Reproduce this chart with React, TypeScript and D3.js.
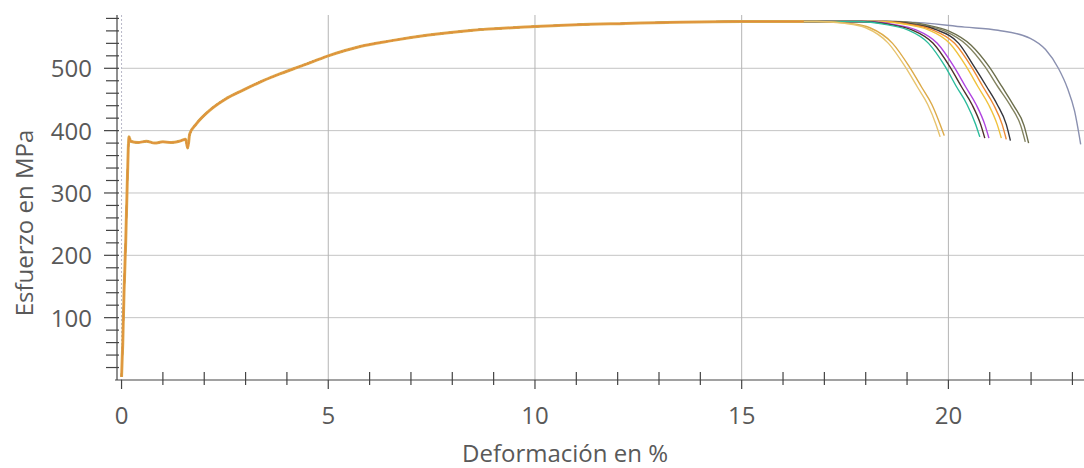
import * as d3 from 'd3';

const X_TICKS = [0, 5, 10, 15, 20];
const Y_TICKS = [100, 200, 300, 400, 500];

// shared part of all specimens: elastic, yield plateau, hardening
const COMMON_STRAIN = [0.0, 0.03, 0.06, 0.1, 0.14, 0.18, 0.22, 0.4, 0.6, 0.8, 1.0, 1.2, 1.4, 1.55, 1.6, 1.65, 1.8, 2.14, 2.5, 2.94, 3.35, 3.75, 4.4, 5.0, 5.77, 6.5, 7.38, 8.5, 10.0, 11.0, 12.2, 13.5, 15.0, 16.5];
const COMMON_STRESS = [5, 60, 140, 220, 320, 390, 383, 381, 383, 380, 382, 381, 383, 386, 372, 395, 410, 433, 450, 465, 478, 489, 505, 520, 535, 544, 553, 561, 567, 570, 572, 574, 575, 575];

const SPECIMEN_COLORS = ['#8a90b0', '#6c6e4c', '#838360', '#35353c', '#ee8a34', '#f0c23c', '#b044e0', '#4e3228', '#2cbc9c', '#dcaa48', '#e8c46e'];

const TAIL_STRAIN = [
  [19.0, 20.4, 21.2, 21.98, 22.35, 22.66, 22.88, 23.05, 23.2],
  [18.7, 19.5, 20.0, 20.55, 20.98, 21.3, 21.58, 21.83, 21.94],
  [18.6, 19.4, 19.9, 20.45, 20.88, 21.2, 21.5, 21.75, 21.86],
  [18.5, 19.2, 19.7, 20.25, 20.62, 20.93, 21.18, 21.4, 21.5],
  [18.4, 19.1, 19.6, 20.15, 20.55, 20.84, 21.09, 21.3, 21.4],
  [18.3, 19.0, 19.5, 20.03, 20.43, 20.72, 20.97, 21.18, 21.28],
  [18.0, 18.7, 19.2, 19.73, 20.13, 20.42, 20.67, 20.88, 20.98],
  [17.9, 18.6, 19.1, 19.63, 20.03, 20.32, 20.57, 20.78, 20.88],
  [17.8, 18.5, 19.0, 19.52, 19.92, 20.2, 20.45, 20.66, 20.76],
  [16.9, 17.6, 18.1, 18.65, 19.05, 19.35, 19.6, 19.8, 19.9],
  [16.8, 17.5, 18.0, 18.55, 18.95, 19.25, 19.5, 19.7, 19.8],
];
const TAIL_STRESS = [
  [574, 566, 561, 548, 530, 500, 468, 432, 378],
  [575, 569, 560, 537, 503, 470, 440, 408, 380],
  [575, 569, 560, 537, 503, 470, 440, 408, 382],
  [575, 570, 562, 540, 503, 470, 442, 410, 384],
  [575, 570, 562, 540, 503, 470, 442, 410, 386],
  [575, 570, 562, 540, 503, 470, 442, 410, 388],
  [575, 570, 562, 540, 503, 470, 442, 410, 388],
  [575, 570, 562, 540, 503, 470, 442, 410, 388],
  [575, 570, 562, 540, 503, 470, 442, 410, 390],
  [575, 572, 565, 540, 503, 470, 442, 410, 392],
  [575, 572, 565, 540, 503, 470, 442, 410, 390],
];

const W = 1084;
const H = 468;
const FONT = '"Open Sans", "DejaVu Sans", sans-serif';
const TEXT = '#595959';

export default function App() {
  const x = d3.scaleLinear().domain([-0.11, 23.28]).range([117, 1084]);
  const y = d3.scaleLinear().domain([0, 585]).range([380, 15.3]);
  const line = d3.line<[number, number]>()
    .x(d => x(d[0]))
    .y(d => y(d[1]))
    .curve(d3.curveMonotoneX);

  const common: [number, number][] = COMMON_STRAIN.map((s, i) => [s, COMMON_STRESS[i]]);
  const curves = SPECIMEN_COLORS.map((c, k) => ({
    color: c,
    pts: common.concat(TAIL_STRAIN[k].map((s, i) => [s, TAIL_STRESS[k][i]] as [number, number])),
  }));

  const yMinor = d3.range(20, 581, 20);
  const xMinor = d3.range(1, 24);
  const x0 = 117;
  const yBase = 380;

  return (
    <svg width={W} height={H} style={{ position: 'absolute', left: 0, top: 0, background: '#fff' }}>
      {/* grid */}
      {Y_TICKS.map(t => (
        <line key={'gy' + t} x1={x(0)} x2={W} y1={y(t)} y2={y(t)} stroke="#c4c4c4" strokeWidth={1} />
      ))}
      {X_TICKS.map(t => (
        <line key={'gx' + t} x1={x(t)} x2={x(t)} y1={15} y2={yBase} stroke={t === 0 ? '#b8b8c8' : '#b4b4b4'}
          strokeWidth={1} strokeDasharray={t === 0 ? '2 2' : undefined} />
      ))}

      {/* curves */}
      {curves.map((c, k) => (
        <path key={k} d={line(c.pts) || ''} fill="none" stroke={c.color} strokeWidth={1.4} />
      ))}
      <path d={line(common) || ''} fill="none" stroke="#dba545" strokeWidth={3} strokeOpacity={0.9} />
      <path d={line(common) || ''} fill="none" stroke="#e38c3a" strokeWidth={1.1} />

      {/* y axis */}
      <line x1={x0} x2={x0} y1={15} y2={yBase} stroke="#444" strokeWidth={1.2} />
      {yMinor.map(t => (
        <line key={'ym' + t} x1={t % 100 === 0 ? 104 : 106} x2={119} y1={y(t)} y2={y(t)} stroke="#444" strokeWidth={1.2} />
      ))}
      {Y_TICKS.map(t => (
        <text key={'yl' + t} x={92} y={y(t) + 9} textAnchor="end" fontFamily={FONT} fontSize={24} fill={TEXT}>{t}</text>
      ))}

      {/* x axis */}
      <line x1={115} x2={W} y1={yBase} y2={yBase} stroke="#444" strokeWidth={1.2} />
      {xMinor.map(t => (
        t % 5 === 0
          ? <line key={'xm' + t} x1={x(t)} x2={x(t)} y1={yBase} y2={389} stroke="#444" strokeWidth={1.2} />
          : <line key={'xm' + t} x1={x(t)} x2={x(t)} y1={372} y2={385} stroke="#444" strokeWidth={1.2} />
      ))}
      <line x1={x(0)} x2={x(0)} y1={yBase} y2={389} stroke="#444" strokeWidth={1.2} />
      {X_TICKS.map(t => (
        <text key={'xl' + t} x={x(t)} y={424} textAnchor="middle" fontFamily={FONT} fontSize={24} fill={TEXT}>{t}</text>
      ))}

      <text x={565} y={462} textAnchor="middle" fontFamily={FONT} fontSize={24} fill={TEXT}>Deformación en %</text>
      <text transform="translate(33,223) rotate(-90)" textAnchor="middle" fontFamily={FONT} fontSize={24} fill={TEXT}>Esfuerzo en MPa</text>
    </svg>
  );
}
